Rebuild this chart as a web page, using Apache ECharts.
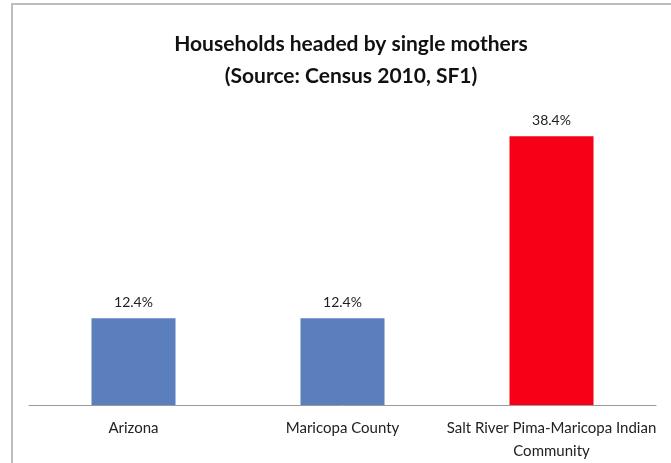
<!DOCTYPE html>
<html>
<head>
<meta charset="utf-8">
<script src="https://cdn.jsdelivr.net/npm/echarts@6/dist/echarts.min.js"></script>
<style>
    html, body { margin: 0; padding: 0; background: #fff; }
    #chart { width: 671px; height: 463px; }
</style>
</head>
<body>
<div id="chart"></div>
<script>
    // values
    var categories = ['Arizona', 'Maricopa County', 'Salt River Pima-Maricopa Indian\nCommunity'];
    var shares = [12.4, 12.4, 38.4];
    var barColors = ['#5b7fbd', '#5b7fbd', '#f60018'];

    var chart = echarts.init(document.getElementById('chart'));
    chart.setOption({
        animation: false,
        title: {
            text: 'Households headed by single mothers\n(Source: Census 2010, SF1)',
            left: 346,
            textAlign: 'center',
            top: 23,
            textStyle: {
                fontFamily: 'Lato',
                fontWeight: 'bold',
                fontSize: 21,
                lineHeight: 32,
                color: '#111'
            }
        },
        graphic: [{
            type: 'rect',
            shape: { x: 12, y: 4, width: 700, height: 500 },
            style: { fill: 'none', stroke: '#bdbdbd', lineWidth: 2 },
            silent: true
        }],
        grid: {
            left: 29,
            right: 15,
            top: 125,
            bottom: 58
        },
        xAxis: {
            type: 'category',
            data: categories,
            axisLine: { lineStyle: { color: '#9a9a9a', width: 1 } },
            axisTick: { length: 4, lineStyle: { color: '#9a9a9a' } },
            axisLabel: {
                interval: 0,
                margin: 12,
                fontFamily: 'Lato',
                fontSize: 15,
                lineHeight: 23,
                color: '#222'
            }
        },
        yAxis: {
            type: 'value',
            min: 0,
            max: 40,
            show: false
        },
        series: [{
            type: 'bar',
            barWidth: 84,
            data: shares.map(function (v, i) {
                return { value: v, itemStyle: { color: barColors[i] } };
            }),
            label: {
                show: true,
                position: 'top',
                distance: 9,
                fontFamily: 'Lato',
                fontSize: 14,
                color: '#222',
                formatter: function (p) { return p.value.toFixed(1) + '%'; }
            }
        }]
    });
</script>
</body>
</html>
